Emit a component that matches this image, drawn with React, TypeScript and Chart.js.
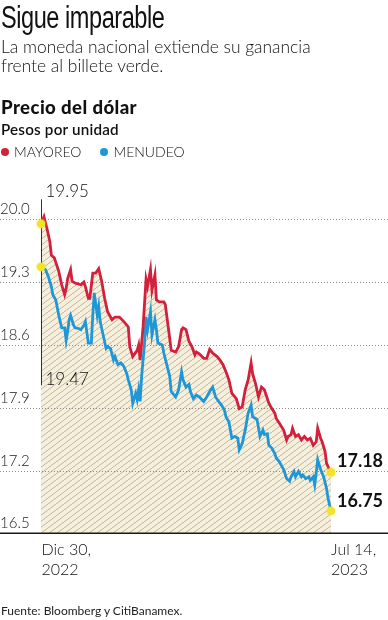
import { useEffect, useRef } from "react";
import { Chart, registerables } from "chart.js";

Chart.register(...registerables);

// ---- Data ----
const yTicks = [16.5, 17.2, 17.9, 18.6, 19.3, 20.0];
const xLabelsStart = ["Dic 30,", "2022"];
const xLabelsEnd = ["Jul 14,", "2023"];
const seriesNames = ["MAYOREO", "MENUDEO"];

// days since Dec 30, 2022
const mayoreoDays = [0, 2, 4, 6, 7, 9, 12, 14, 16, 17, 18, 20, 21, 23, 25, 27, 29, 30, 32, 33, 35, 37, 39, 41, 43, 45, 48, 50, 53, 56, 59, 60, 62, 65, 66, 67, 69, 71, 72, 74, 75, 77, 78, 80, 83, 84, 86, 88, 91, 93, 95, 96, 98, 100, 102, 104, 105, 107, 110, 112, 114, 116, 119, 121, 123, 125, 127, 129, 131, 132, 134, 136, 138, 140, 142, 143, 145, 147, 149, 151, 154, 156, 158, 159, 161, 164, 166, 167, 169, 170, 172, 174, 176, 178, 180, 182, 184, 186, 187, 189, 190, 192, 193, 195, 196];
const mayoreoVals = [19.95, 20.03, 19.9, 19.75, 19.6, 19.57, 19.42, 19.27, 19.16, 19.23, 19.34, 19.44, 19.31, 19.29, 19.28, 19.27, 19.3, 19.25, 19.12, 19.12, 19.4, 19.4, 19.45, 19.31, 19.12, 18.97, 18.88, 18.91, 18.91, 18.86, 18.8, 18.58, 18.47, 18.54, 18.6, 18.43, 18.8, 19.33, 19.25, 19.44, 19.21, 19.38, 19.1, 19.08, 19.08, 19.05, 18.8, 18.54, 18.52, 18.58, 18.77, 18.79, 18.77, 18.64, 18.58, 18.49, 18.52, 18.5, 18.45, 18.45, 18.55, 18.51, 18.47, 18.43, 18.38, 18.3, 18.21, 18.06, 18.02, 18.0, 17.89, 17.91, 18.1, 18.21, 18.4, 18.28, 18.17, 18.02, 18.13, 18.1, 17.95, 17.89, 17.84, 17.78, 17.73, 17.65, 17.54, 17.58, 17.6, 17.67, 17.58, 17.6, 17.54, 17.58, 17.54, 17.56, 17.48, 17.52, 17.67, 17.56, 17.52, 17.41, 17.28, 17.21, 17.18];

const menudeoDays = [0, 3, 5, 7, 8, 10, 12, 14, 16, 17, 18, 19, 20, 22, 23, 26, 27, 29, 30, 32, 34, 35, 36, 38, 39, 40, 42, 44, 45, 47, 49, 50, 52, 54, 56, 58, 59, 61, 62, 64, 65, 66, 67, 68, 70, 71, 72, 74, 75, 77, 78, 79, 82, 83, 85, 87, 88, 91, 93, 95, 96, 98, 100, 101, 103, 105, 107, 110, 112, 114, 116, 118, 120, 122, 124, 125, 127, 129, 131, 133, 134, 136, 138, 140, 142, 143, 145, 146, 148, 150, 151, 153, 154, 156, 158, 159, 161, 163, 164, 166, 168, 169, 171, 172, 174, 176, 177, 179, 181, 182, 184, 185, 186, 187, 189, 191, 193, 194, 195, 196];
const menudeoVals = [19.47, 19.44, 19.36, 19.25, 19.16, 19.1, 18.93, 18.79, 18.79, 18.65, 18.75, 18.88, 18.93, 18.82, 18.79, 18.78, 18.77, 18.82, 18.86, 18.62, 18.62, 18.93, 19.18, 18.93, 19.03, 18.86, 18.71, 18.56, 18.58, 18.56, 18.43, 18.47, 18.38, 18.4, 18.36, 18.28, 18.21, 18.1, 17.95, 18.06, 17.99, 18.1, 17.97, 18.25, 18.62, 18.91, 18.77, 18.97, 18.71, 18.88, 18.77, 18.62, 18.6, 18.51, 18.38, 18.25, 18.08, 18.02, 18.1, 18.3, 18.21, 18.13, 18.16, 18.08, 18.0, 18.04, 18.02, 17.97, 18.02, 18.08, 18.13, 18.02, 17.97, 17.93, 17.87, 17.8, 17.74, 17.56, 17.58, 17.56, 17.43, 17.5, 17.65, 17.84, 17.93, 17.8, 17.78, 17.77, 17.58, 17.65, 17.6, 17.61, 17.48, 17.45, 17.39, 17.34, 17.3, 17.24, 17.21, 17.11, 17.08, 17.13, 17.19, 17.13, 17.19, 17.13, 17.15, 17.11, 17.13, 17.09, 17.13, 17.04, 17.17, 17.32, 17.21, 17.13, 17.0, 16.89, 16.82, 16.75];

const RED = "#d3203d";
const BLUE = "#1f97d6";
const YELLOW = "#f2e324";
const W = 388;
const H = 620;
const FONT = "Lato, 'Open Sans', sans-serif";

const fmt = (v: number) => v.toFixed(2);

export default function App() {
  const ref = useRef<HTMLCanvasElement | null>(null);

  useEffect(() => {
    document.body.style.margin = "0";
    const canvas = ref.current!;
    const ctx = canvas.getContext("2d")!;

    const tile = document.createElement("canvas");
    tile.width = 8;
    tile.height = 6;
    const t = tile.getContext("2d")!;
    t.fillStyle = "#f5efdc";
    t.fillRect(0, 0, 8, 6);
    t.strokeStyle = "#bfb7a1";
    t.lineWidth = 1;
    t.beginPath();
    t.moveTo(0, 6);
    t.lineTo(8, 0);
    t.moveTo(-8, 6);
    t.lineTo(0, 0);
    t.moveTo(8, 6);
    t.lineTo(16, 0);
    t.stroke();
    const pattern = ctx.createPattern(tile, "repeat")!;

    const overlay = {
      id: "overlay",
      beforeDatasetsDraw(chart: any) {
        const c = chart.ctx;
        const y = chart.scales.y;
        c.save();
        c.strokeStyle = "#8c8c8c";
        c.lineWidth = 1;
        c.setLineDash([1, 2]);
        yTicks.slice(1).forEach((v) => {
          const py = Math.round(y.getPixelForValue(v)) + 0.5;
          c.beginPath();
          c.moveTo(0, py);
          c.lineTo(W, py);
          c.stroke();
        });
        c.restore();
      },
      afterDatasetsDraw(chart: any) {
        const c = chart.ctx;
        const x = chart.scales.x;
        const y = chart.scales.y;
        const area = chart.chartArea;
        c.save();
        // baseline
        const by = y.getPixelForValue(yTicks[0]);
        c.strokeStyle = "#1a1a1a";
        c.lineWidth = 1.6;
        c.beginPath();
        c.moveTo(0, by);
        c.lineTo(W, by);
        c.stroke();

        // y tick labels
        c.fillStyle = "#1a1a1a";
        c.font = `300 15px ${FONT}`;
        c.textAlign = "left";
        c.textBaseline = "alphabetic";
        yTicks.forEach((v) => {
          c.fillText(v.toFixed(1), 0, y.getPixelForValue(v) - 5);
        });

        // vertical line at start
        const x0 = Math.round(x.getPixelForValue(mayoreoDays[0])) + 0.5;
        c.strokeStyle = "#333";
        c.lineWidth = 1;
        c.beginPath();
        c.moveTo(x0, area.top - 20);
        c.lineTo(x0, area.top + 166);
        c.stroke();

        // start annotations
        c.font = `300 17px ${FONT}`;
        c.fillStyle = "#111";
        c.fillText(fmt(mayoreoVals[0]), x0 + 4, area.top - 22);
        c.fillText(fmt(menudeoVals[0]), x0 + 4, area.top + 166);

        // end annotations
        const xe = x.getPixelForValue(mayoreoDays[mayoreoDays.length - 1]);
        const redEnd = mayoreoVals[mayoreoVals.length - 1];
        const blueEnd = menudeoVals[menudeoVals.length - 1];
        c.font = `bold 18px ${FONT}`;
        c.fillText(fmt(redEnd), xe + 6, y.getPixelForValue(redEnd) - 5);
        c.fillText(fmt(blueEnd), xe + 6, y.getPixelForValue(blueEnd) - 4);

        // x labels
        c.font = `300 16px ${FONT}`;
        c.fillText(xLabelsStart[0], x0, by + 22);
        c.fillText(xLabelsStart[1], x0, by + 42);
        c.fillText(xLabelsEnd[0], xe, by + 22);
        c.fillText(xLabelsEnd[1], xe, by + 42);

        // yellow markers
        const pts: [number, number][] = [
          [mayoreoDays[0], mayoreoVals[0]],
          [menudeoDays[0], menudeoVals[0]],
          [mayoreoDays[mayoreoDays.length - 1], redEnd],
          [menudeoDays[menudeoDays.length - 1], blueEnd],
        ];
        c.fillStyle = YELLOW;
        c.shadowColor = "rgba(242,227,36,0.8)";
        c.shadowBlur = 3;
        pts.forEach(([d, v]) => {
          c.beginPath();
          c.arc(x.getPixelForValue(d), y.getPixelForValue(v), 4.2, 0, Math.PI * 2);
          c.fill();
        });
        c.restore();
      },
    };

    const chart = new Chart(canvas, {
      type: "line",
      data: {
        datasets: [
          {
            label: seriesNames[0],
            data: mayoreoDays.map((d, i) => ({ x: d, y: mayoreoVals[i] })),
            borderColor: RED,
            borderWidth: 2.8,
            backgroundColor: pattern,
            fill: "start",
            pointRadius: 0,
            tension: 0,
            clip: false,
          },
          {
            label: seriesNames[1],
            data: menudeoDays.map((d, i) => ({ x: d, y: menudeoVals[i] })),
            borderColor: BLUE,
            borderWidth: 2.8,
            fill: false,
            pointRadius: 0,
            tension: 0,
            clip: false,
          },
        ],
      },
      options: {
        animation: false,
        responsive: false,
        maintainAspectRatio: false,
        layout: { padding: { left: 41, right: 57, top: 219.3, bottom: 86.7 } },
        scales: {
          x: { type: "linear", min: 0, max: 196, display: false },
          y: { type: "linear", min: yTicks[0], max: yTicks[yTicks.length - 1], display: false },
        },
        plugins: {
          legend: { display: false },
          tooltip: { enabled: false },
          filler: { drawTime: "beforeDatasetsDraw" },
        },
      },
      plugins: [overlay],
    } as any);

    return () => chart.destroy();
  }, []);

  const abs = (o: any) => ({ position: "absolute" as const, margin: 0, whiteSpace: "nowrap" as const, color: "#111", ...o });

  return (
    <div style={{ position: "relative", width: W, height: H, overflow: "hidden", background: "#fff" }}>
      <canvas ref={ref} width={W} height={H} style={{ position: "absolute", left: 0, top: 0 }} />
      <div style={abs({ left: 1, top: 1.5, fontFamily: "'Liberation Sans Narrow', 'Liberation Sans', sans-serif", fontSize: 31, lineHeight: "31px", letterSpacing: "-0.6px", transform: "scaleX(0.76)", transformOrigin: "0 0" })}>
        Sigue imparable
      </div>
      <div style={abs({ left: 1, top: 37, fontFamily: FONT, fontWeight: 300, fontSize: 17.4, lineHeight: "19.4px" })}>
        La moneda nacional extiende su ganancia
        <br />
        frente al billete verde.
      </div>
      <div style={abs({ left: 1, top: 97.5, fontFamily: FONT, fontWeight: 900, fontSize: 18.6, lineHeight: "18.6px", letterSpacing: "0.4px" })}>
        Precio del dólar
      </div>
      <div style={abs({ left: 1, top: 122, fontFamily: FONT, fontWeight: 600, fontSize: 15.2, lineHeight: "15.2px", letterSpacing: "0.2px" })}>
        Pesos por unidad
      </div>
      <div style={abs({ left: 1, top: 144.5, fontFamily: FONT, fontWeight: 300, fontSize: 14, lineHeight: "14px", display: "flex", alignItems: "center" })}>
        <span style={{ width: 8, height: 8, borderRadius: 4, background: RED, display: "inline-block", marginRight: 5 }} />
        <span style={{ marginRight: 19 }}>{seriesNames[0]}</span>
        <span style={{ width: 8, height: 8, borderRadius: 4, background: BLUE, display: "inline-block", marginRight: 5 }} />
        <span>{seriesNames[1]}</span>
      </div>
      <div style={abs({ left: 1, top: 605, fontFamily: FONT, fontWeight: 400, fontSize: 12, lineHeight: "12px", color: "#222" })}>
        Fuente: Bloomberg y CitiBanamex.
      </div>
    </div>
  );
}
